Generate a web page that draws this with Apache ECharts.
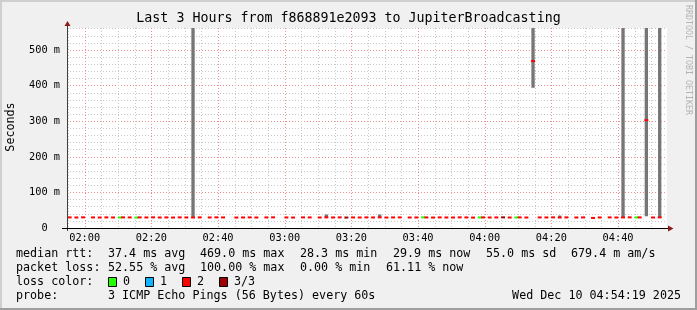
<!DOCTYPE html>
<html>
<head>
<meta charset="utf-8">
<script src="https://cdn.jsdelivr.net/npm/echarts@6.0.0/dist/echarts.min.js"></script>
<style>
html,body{margin:0;padding:0;background:#f0f0f0;overflow:hidden}
#chart{width:697px;height:310px}
</style>
</head>
<body>
<div id="chart"></div>
<script>
// ---------------- data ----------------
const xTickLabels = ['02:00','02:20','02:40','03:00','03:20','03:40','04:00','04:20','04:40'];
const yTickValues = [0, 100, 200, 300, 400, 500];

// start time of each 1-minute step that has a median value
const medianTimes = ['01:54','01:55','01:57','01:59','02:02','02:04','02:06','02:08','02:10','02:11',
  '02:13','02:15','02:16','02:18','02:20','02:22','02:24','02:26','02:28','02:30',
  '02:32','02:34','02:37','02:39','02:41','02:45','02:47','02:49','02:51','02:54',
  '02:56','03:00','03:02','03:05','03:07','03:10','03:12','03:14','03:16','03:18',
  '03:20','03:22','03:24','03:26','03:28','03:30','03:32','03:34','03:37','03:39',
  '03:41','03:42','03:44','03:46','03:48','03:50','03:52','03:54','03:56','03:58',
  '03:59','04:01','04:03','04:05','04:07','04:09','04:10','04:12','04:14','04:16',
  '04:18','04:20','04:22','04:24','04:27','04:29','04:32','04:34','04:37','04:39',
  '04:41','04:43','04:45','04:46','04:48','04:50','04:52'];
// median rtt in ms
const medianMs = [29.6,29.8,29.5,29.9,29.7,29.4,29.8,29.6,29.5,29.9,
  29.7,29.3,29.8,29.6,29.9,29.5,29.7,29.4,29.8,29.6,
  29.5,29.8,29.6,29.9,29.7,29.4,29.6,29.8,29.5,29.7,
  29.9,29.6,29.4,29.8,29.7,29.5,29.9,29.6,29.8,29.4,
  29.7,29.5,29.8,29.6,29.9,29.4,29.7,29.8,29.5,29.6,
  29.9,29.7,29.4,29.8,29.6,29.5,29.9,29.7,29.3,29.6,
  29.8,29.5,29.7,29.9,29.4,29.6,29.8,29.5,469.0,29.7,
  29.6,29.9,29.4,29.8,29.5,29.7,28.3,29.6,29.8,29.5,
  29.7,29.9,29.6,29.8,303.0,29.5,29.9];
// lost pings out of 3
const lossCount = [0,2,2,2,2,2,2,2,0,2,
  2,0,2,2,2,2,2,2,2,2,
  2,2,2,2,2,2,2,2,2,2,
  2,2,2,2,2,2,2,2,2,3,
  2,2,2,2,2,2,2,2,2,2,
  0,2,2,2,2,2,2,2,2,0,
  2,2,2,3,2,0,2,2,2,2,
  2,2,2,2,2,2,2,2,2,2,
  2,2,0,2,2,2,2];

// smoke (ping spread) per step
const smokeTimes = ['02:32','03:12','03:28','04:14','04:22','04:41','04:48','04:52'];
const smokeLow   = [29.9, 29.8, 29.6, 394, 29.9, 29.7, 33, 29.9];
const smokeHigh  = [1000, 38, 38, 1000, 35, 1000, 1000, 1000];

const lossLabels = ['0', '1', '2', '3/3'];
const lossColors = ['#22ff00', '#10b4ff', '#ff0000', '#a00000'];

// ---------------- helpers ----------------
const toMin = s => { const p = s.split(':').map(Number); return p[0] * 60 + p[1]; };
const fmt = v => { const h = Math.floor(v / 60), m = Math.round(v - h * 60);
  return String(h).padStart(2, '0') + ':' + String(m).padStart(2, '0'); };

const X_MIN = 114.69, X_MAX = 294.69;   // 01:54:41 .. 04:54:41
const Y_MAX = 562;
const mono = "'DejaVu Sans Mono', monospace";
const MAJ = '#f08c8c', MIN = '#c8c8c8';

const gridMinutes = [];
for (let m = 115; m < X_MAX; m += 5) gridMinutes.push(m);
const majorMinutes = xTickLabels.map(toMin);

const chart = echarts.init(document.getElementById('chart'), null, {renderer: 'canvas', width: 697, height: 310});

function txt(x, y, text, size, extra) {
  const e = Object.assign({type: 'text', x: x, y: y, silent: true, z: 50,
    style: {text: text, fill: '#000', font: size + 'px ' + mono, align: 'left', verticalAlign: 'middle'}}, extra || {});
  if (extra && extra.style) e.style = Object.assign({text: text, fill: '#000', font: size + 'px ' + mono, align: 'left', verticalAlign: 'middle'}, extra.style);
  return e;
}

const LEG = 11.7;
const graphics = [
  // frame
  {type: 'rect', shape: {x: 0, y: 0, width: 697, height: 2}, style: {fill: '#cfcfcf'}, z: 100, silent: true},
  {type: 'rect', shape: {x: 0, y: 0, width: 2, height: 310}, style: {fill: '#cfcfcf'}, z: 100, silent: true},
  {type: 'rect', shape: {x: 0, y: 308, width: 697, height: 2}, style: {fill: '#9e9e9e'}, z: 100, silent: true},
  {type: 'rect', shape: {x: 695, y: 0, width: 2, height: 310}, style: {fill: '#9e9e9e'}, z: 100, silent: true},
  // axes
  {type: 'line', shape: {x1: 67.5, y1: 25, x2: 67.5, y2: 231}, style: {stroke: '#404040', lineWidth: 1}, z: 60, silent: true},
  {type: 'line', shape: {x1: 62, y1: 228.5, x2: 669, y2: 228.5}, style: {stroke: '#000', lineWidth: 1}, z: 60, silent: true},
  {type: 'polygon', shape: {points: [[64.5, 26], [70.5, 26], [67.5, 21]]}, style: {fill: '#8b1a1a'}, z: 61, silent: true},
  {type: 'polygon', shape: {points: [[668, 225.5], [668, 231.5], [673.5, 228.5]]}, style: {fill: '#8b1a1a'}, z: 61, silent: true},
  // title
  txt(348.5, 19, 'Last 3 Hours from f868891e2093 to JupiterBroadcasting', 13.3, {style: {align: 'center'}}),
  // y axis name
  txt(11, 127, 'Seconds', LEG, {rotation: Math.PI / 2, style: {align: 'center'}}),
  // watermark
  txt(688, 60, 'RRDTOOL / TOBI OETIKER', 8.3, {rotation: -Math.PI / 2, style: {align: 'center', fill: '#b4b4b4'}}),
  // legend line 1
  txt(16, 254, 'median rtt:', LEG),
  txt(108, 254, '37.4 ms avg', LEG),
  txt(200, 254, '469.0 ms max', LEG),
  txt(300, 254, '28.3 ms min', LEG),
  txt(393, 254, '29.9 ms now', LEG),
  txt(486, 254, '55.0 ms sd', LEG),
  txt(571, 254, '679.4 m am/s', LEG),
  // legend line 2
  txt(16, 268, 'packet loss:', LEG),
  txt(108, 268, '52.55 % avg', LEG),
  txt(200, 268, '100.00 % max', LEG),
  txt(300, 268, '0.00 % min', LEG),
  txt(386, 268, '61.11 % now', LEG),
  // legend line 3
  txt(16, 282, 'loss color:', LEG),
  // legend line 4
  txt(16, 296, 'probe:', LEG),
  txt(108, 296, '3 ICMP Echo Pings (56 Bytes) every 60s', LEG),
  txt(681, 296, 'Wed Dec 10 04:54:19 2025', LEG, {style: {align: 'right'}})
];
const boxX = [108.5, 145.5, 182.5, 219.5];
lossLabels.forEach((l, i) => {
  graphics.push({type: 'rect', shape: {x: boxX[i], y: 277.5, width: 8, height: 9},
    style: {fill: lossColors[i], stroke: '#000', lineWidth: 1}, z: 50, silent: true});
  graphics.push(txt(boxX[i] + 14.5, 282, l, LEG));
});

const option = {
  backgroundColor: '#f0f0f0',
  animation: false,
  grid: {left: 67, top: 28, width: 600, height: 200, show: true, backgroundColor: '#ffffff', borderWidth: 0},
  xAxis: {
    type: 'value', min: X_MIN, max: X_MAX,
    axisLine: {show: false}, axisTick: {show: false}, splitLine: {show: false},
    axisLabel: {customValues: majorMinutes, formatter: v => fmt(v), color: '#000',
      fontFamily: mono, fontSize: 10.3, margin: 5}
  },
  yAxis: {
    type: 'value', min: 0, max: Y_MAX, interval: 20,
    axisLine: {show: false}, axisTick: {show: false},
    splitLine: {show: true, showMaxLine: false, lineStyle: {color: [MAJ, MIN, MIN, MIN, MIN], type: [1, 2], width: 1}},
    axisLabel: {formatter: v => yTickValues.includes(v) ? (v === 0 ? '0  ' : v + ' m') : '',
      color: '#000', fontFamily: mono, fontSize: 10.3, margin: 7}
  },
  series: [
    {
      name: 'vgrid', type: 'custom', silent: true, z: 1,
      data: gridMinutes.map(m => [m, 0]),
      encode: {x: 0, y: 1},
      renderItem: (params, api) => {
        const t = api.value(0);
        const top = api.coord([t, Y_MAX]), bot = api.coord([t, 0]);
        const x = Math.round(top[0]) + 0.5;
        return {type: 'line', shape: {x1: x, y1: top[1], x2: x, y2: bot[1]},
          style: {stroke: majorMinutes.includes(t) ? MAJ : MIN, lineWidth: 1, lineDash: [1, 2]}};
      }
    },
    {
      name: 'smoke', type: 'custom', silent: true, z: 3, clip: true,
      data: smokeTimes.map((t, i) => [toMin(t), smokeLow[i], smokeHigh[i]]),
      encode: {x: 0, y: [1, 2]},
      renderItem: (params, api) => {
        const t = api.value(0);
        const a = api.coord([t, api.value(1)]), b = api.coord([t + 1, api.value(2)]);
        return {type: 'rect', shape: {x: a[0], y: b[1], width: b[0] - a[0], height: a[1] - b[1]},
          style: {fill: '#767676'}};
      }
    },
    {
      name: 'median', type: 'custom', silent: true, z: 5, clip: true,
      data: medianTimes.map((t, i) => [toMin(t), medianMs[i], lossCount[i]]),
      encode: {x: 0, y: 1},
      renderItem: (params, api) => {
        const t = api.value(0), v = api.value(1), loss = api.value(2);
        const a = api.coord([t, v]), b = api.coord([t + 1, v]);
        return {type: 'rect', shape: {x: a[0] - 0.3, y: a[1] - 1, width: b[0] - a[0] + 0.6, height: 2},
          style: {fill: lossColors[loss]}};
      }
    }
  ],
  graphic: {elements: graphics}
};
chart.setOption(option);
</script>
</body>
</html>
